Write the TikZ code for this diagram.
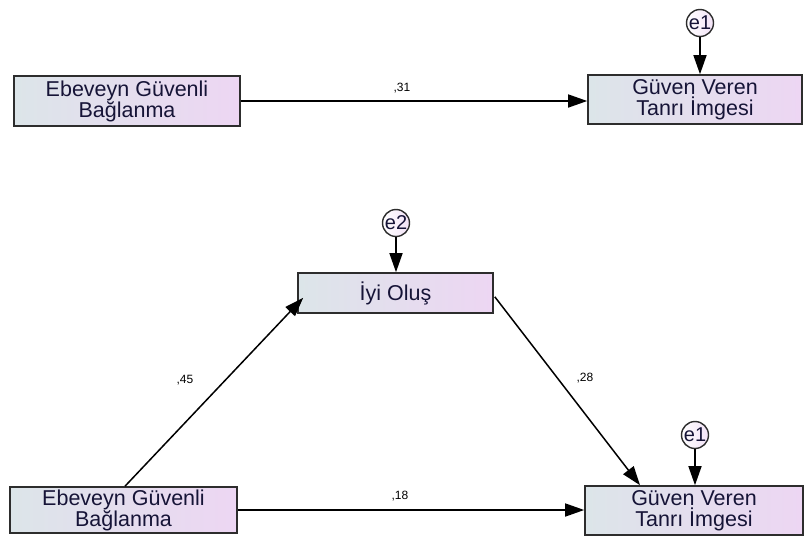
\documentclass[tikz,border=0pt]{standalone}
\usepackage{fontspec}
\setmainfont{Liberation Sans}
\usetikzlibrary{arrows.meta,calc}
\definecolor{boxL}{RGB}{220,229,233}
\definecolor{boxR}{RGB}{237,214,243}
\definecolor{txt}{RGB}{22,20,55}
\definecolor{edge}{RGB}{45,45,45}
\begin{document}
\begin{tikzpicture}[x=1pt,y=-1pt,
  varbox/.style={draw=edge,line width=1.6pt,left color=boxL,right color=boxR,
    minimum height=48pt,inner sep=0pt,align=center,text=txt,
    font=\fontsize{21.5}{21}\selectfont},
  errc/.style={circle,draw=edge,line width=1.4pt,left color=white,right color=boxR!70,
    minimum size=27pt,inner sep=0pt,text=txt,font=\fontsize{20}{20}\selectfont},
  path/.style={line width=1.5pt,draw=black,-{Triangle[length=19pt,width=13pt]}},
  coef/.style={font=\fontsize{12}{12}\selectfont,text=black}]
\useasboundingbox (0,0) rectangle (804,539);
% top model
\node[varbox,minimum width=226pt,minimum height=50pt] (a1) at (127,101) {Ebeveyn Güvenli\\Bağlanma};
\node[varbox,minimum width=214pt,minimum height=49pt] (g1) at (695,99.5) {Güven Veren\\Tanrı İmgesi};
\node[errc] (e1a) at (700,23) {e1};
\draw[path] (a1.east) -- (a1.east -| g1.west) coordinate (g1in);
\draw[path] (e1a.south) -- (e1a.south |- g1.north);
\node[coef] (c31) at (402,88) {,31};
% bottom model
\node[varbox,minimum width=195pt,minimum height=40pt] (iyi) at (395.5,293) {İyi Oluş};
\node[errc] (e2) at (396,223) {e2};
\node[varbox,minimum width=227pt,minimum height=46pt] (a2) at (123.5,510) {Ebeveyn Güvenli\\Bağlanma};
\node[varbox,minimum width=218pt,minimum height=49pt] (g2) at (694,510.5) {Güven Veren\\Tanrı İmgesi};
\node[errc] (e1b) at (695,435) {e1};
\draw[path] (e2.south) -- (e2.south |- iyi.north);
\draw[path] (e1b.south) -- (e1b.south |- g2.north);
\draw[path] ([xshift=1.5pt]a2.north) -- ([shift={(6,-16)}]iyi.south west);
\draw[path] ([shift={(1,-17)}]iyi.south east) -- ([xshift=-54pt]g2.north);
\draw[path] (a2.east) -- (a2.east -| g2.west);
\node[coef] (c45) at (185,380) {,45};
\node[coef] (c28) at (585,378) {,28};
\node[coef] (c18) at (400,496) {,18};
\end{tikzpicture}
\end{document}
